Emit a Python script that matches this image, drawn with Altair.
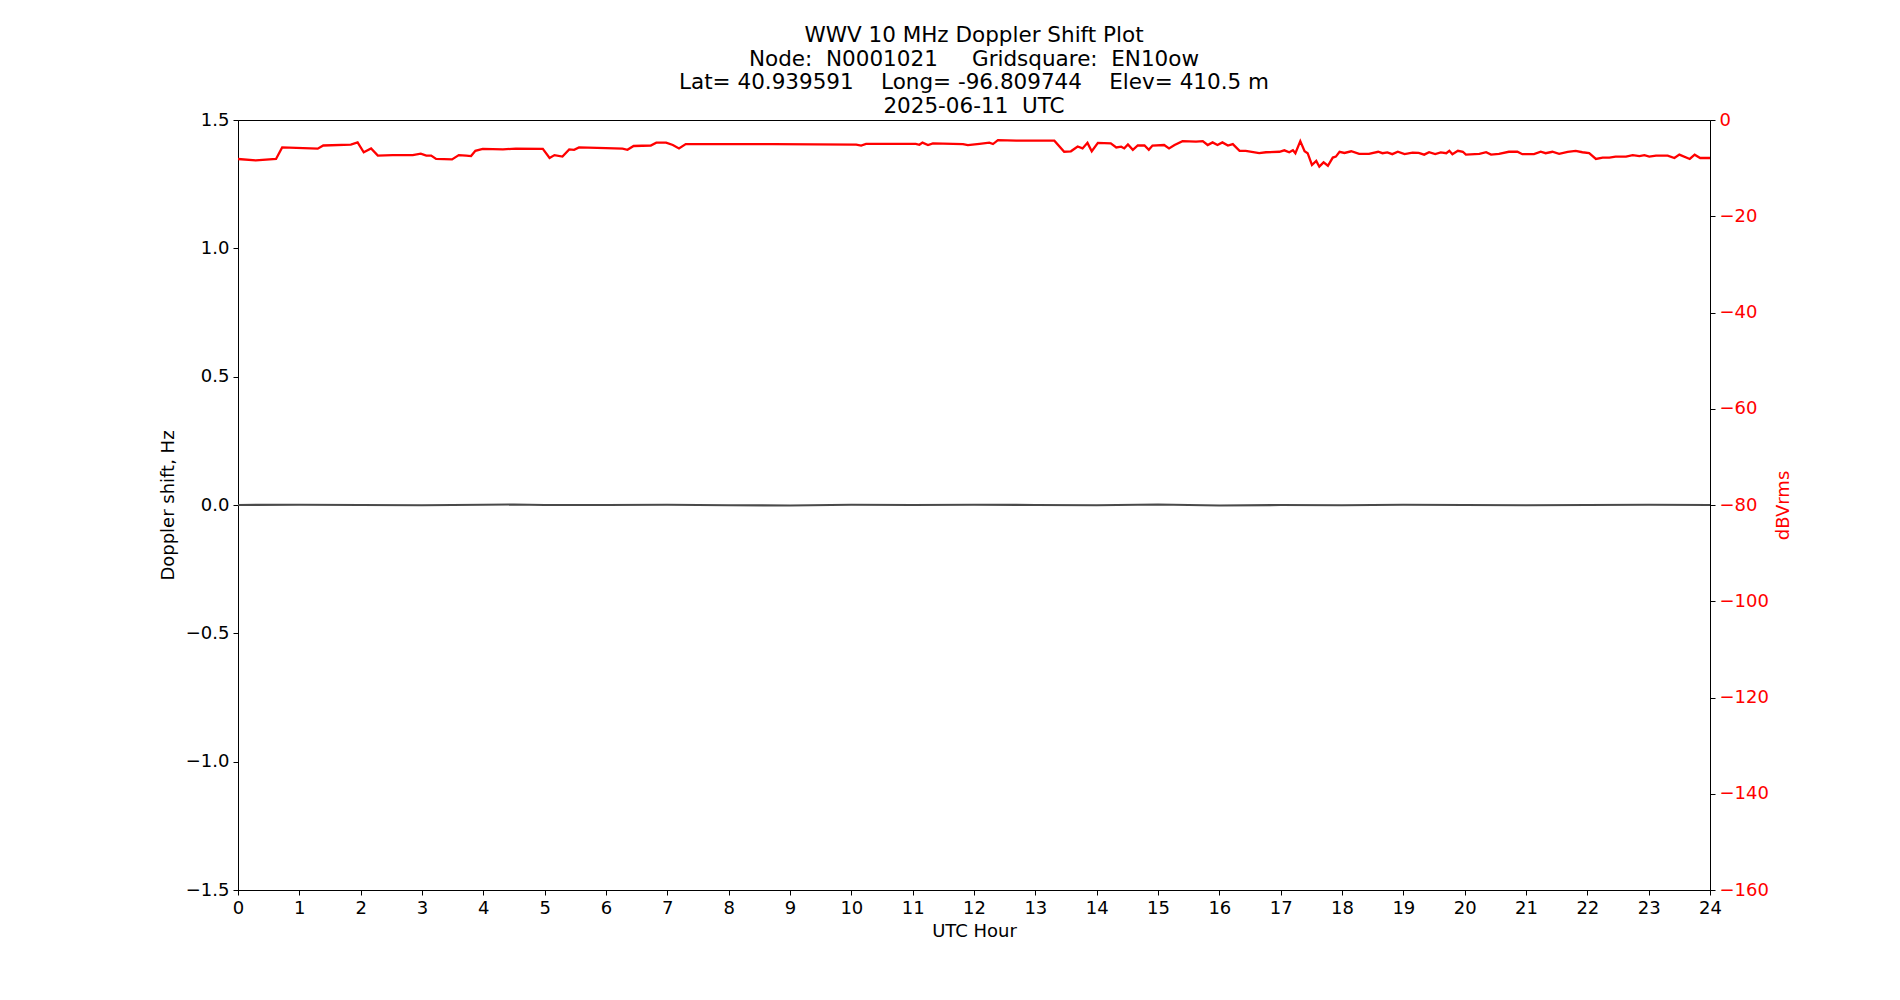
import altair as alt
import pandas as pd

# WWV 10 MHz received level (dBVrms)
snr_hours = [0.00, 0.29, 0.62, 0.72, 1.30, 1.39, 1.84, 1.95, 2.05, 2.17, 2.28, 2.52, 2.85, 2.98,
             3.07, 3.15, 3.23, 3.49, 3.60, 3.72, 3.80, 3.87, 3.99, 4.32, 4.53, 4.97, 5.08, 5.16,
             5.29, 5.40, 5.48, 5.56, 6.00, 6.27, 6.35, 6.45, 6.73, 6.82, 6.98, 7.09, 7.19, 7.30,
             8.72, 10.08, 10.16, 10.24, 11.05, 11.11, 11.16, 11.25, 11.33, 11.82, 11.90, 12.09,
             12.25, 12.31, 12.39, 12.69, 13.31, 13.47, 13.58, 13.69, 13.77, 13.85, 13.92, 14.02,
             14.23, 14.32, 14.40, 14.45, 14.51, 14.59, 14.67, 14.78, 14.85, 14.91, 15.10, 15.18,
             15.27, 15.40, 15.62, 15.73, 15.81, 15.89, 15.97, 16.05, 16.14, 16.22, 16.33, 16.43,
             16.65, 16.76, 16.98, 17.06, 17.14, 17.20, 17.24, 17.32, 17.39, 17.44, 17.51, 17.58,
             17.63, 17.70, 17.77, 17.85, 17.90, 17.96, 18.04, 18.15, 18.28, 18.44, 18.59, 18.66,
             18.74, 18.82, 18.91, 19.02, 19.15, 19.25, 19.34, 19.42, 19.52, 19.61, 19.70, 19.75,
             19.80, 19.89, 19.97, 20.02, 20.24, 20.35, 20.43, 20.56, 20.72, 20.86, 20.94, 21.13,
             21.24, 21.32, 21.43, 21.54, 21.68, 21.81, 21.92, 22.03, 22.14, 22.25, 22.36, 22.46,
             22.63, 22.74, 22.85, 22.93, 23.01, 23.12, 23.31, 23.42, 23.50, 23.67, 23.75, 23.84,
             24.00]
snr_db = [-8.1, -8.4, -8.1, -5.7, -5.95, -5.3, -5.1, -4.65, -6.7, -5.9, -7.4, -7.3, -7.3, -7.0,
          -7.4, -7.4, -8.1, -8.2, -7.3, -7.4, -7.5, -6.4, -6.0, -6.1, -5.95, -6.0, -7.9, -7.3,
          -7.6, -6.1, -6.2, -5.7, -5.85, -5.95, -6.2, -5.4, -5.3, -4.7, -4.7, -5.2, -5.9, -5.0,
          -5.0, -5.1, -5.3, -4.95, -4.95, -5.15, -4.7, -5.2, -4.85, -5.0, -5.2, -4.95,
          -4.7, -5.0, -4.2, -4.3, -4.3, -6.6, -6.5, -5.5, -5.9, -4.75, -6.5, -4.75,
          -4.85, -5.7, -5.55, -5.9, -5.1, -6.2, -5.3, -5.3, -6.2, -5.3, -5.2, -5.9,
          -5.2, -4.4, -4.5, -4.4, -5.2, -4.65, -5.2, -4.65, -5.3, -5.0, -6.4, -6.4,
          -6.9, -6.7, -6.6, -6.3, -6.7, -6.3, -6.9, -4.4, -6.5, -6.9, -9.35, -8.5,
          -9.7, -8.8, -9.5, -7.8, -7.6, -6.6, -6.85, -6.5, -7.05, -7.05, -6.6, -6.9,
          -6.75, -7.1, -6.6, -7.1, -6.8, -6.85, -7.2, -6.7, -7.1, -6.75, -6.9, -6.4,
          -7.1, -6.4, -6.6, -7.2, -7.05, -6.7, -7.2, -7.05, -6.6, -6.6, -7.1, -7.1,
          -6.6, -6.9, -6.6, -7.05, -6.6, -6.4, -6.7, -6.9, -8.1, -7.8, -7.8, -7.6,
          -7.6, -7.3, -7.5, -7.3, -7.6, -7.4, -7.4, -7.9, -7.2, -8.1, -7.2, -7.9,
          -7.9]

# Doppler shift (Hz), practically flat at zero
dop_hours = [0, 1, 2, 3, 4, 4.5, 5, 6, 7, 8, 9, 10, 11, 12, 13, 14, 15, 16, 17, 18, 19, 20,
             21, 22, 23, 24]
dop_hz = [0.0, 0.001, 0.0, -0.001, 0.001, 0.002, 0.0, 0.0, 0.001, -0.001, -0.002, 0.001,
          0.0, 0.001, 0.0, -0.001, 0.002, -0.002, 0.0, -0.001, 0.001, 0.0, -0.001, 0.0,
          0.001, 0.0]

title_lines = ["WWV 10 MHz Doppler Shift Plot",
               "Node:\u00a0\u00a0N0001021\u00a0\u00a0\u00a0\u00a0\u00a0Gridsquare:\u00a0\u00a0EN10ow",
               "Lat=\u00a040.939591\u00a0\u00a0\u00a0\u00a0Long=\u00a0-96.809744\u00a0\u00a0\u00a0\u00a0Elev=\u00a0410.5\u00a0m",
               "2025-06-11\u00a0\u00a0UTC"]

hour_ticks = list(range(0, 25))
dop_ticks = [-1.5, -1.0, -0.5, 0.0, 0.5, 1.0, 1.5]
db_ticks = list(range(-160, 1, 20))

df_snr = pd.DataFrame({'t': snr_hours, 'dBVrms': snr_db})
df_dop = pd.DataFrame({'t': dop_hours, 'doppler': dop_hz})

x_enc = alt.X('t:Q', scale=alt.Scale(domain=[0, 24], nice=False),
              axis=alt.Axis(title='UTC Hour', values=hour_ticks, format='d', titlePadding=5,
                            labelFlush=False))

# Doppler shift on the left axis
dop_line = (
    alt.Chart(df_dop)
    .mark_line(color='#4a4a4a', strokeWidth=2.2)
    .encode(
        x=x_enc,
        y=alt.Y('doppler:Q', scale=alt.Scale(domain=[-1.5, 1.5], nice=False),
                axis=alt.Axis(title='Doppler shift, Hz', orient='left', values=dop_ticks,
                              format='.1f', titlePadding=8))
    )
)

# Signal level on the right axis
snr_line = (
    alt.Chart(df_snr)
    .mark_line(color='#ff0000', strokeWidth=2.3)
    .encode(
        x=x_enc,
        y=alt.Y('dBVrms:Q', scale=alt.Scale(domain=[-160, 0], nice=False),
                axis=alt.Axis(title='dBVrms', orient='right', values=db_ticks, format='d',
                              labelColor='#ff0000', titleColor='#ff0000',
                              titleAngle=270, titleBaseline='top', titlePadding=6))
    )
)

chart = (
    alt.layer(dop_line, snr_line)
    .resolve_scale(y='independent')
    .properties(
        width=1472,
        height=770,
        padding={'left': 230, 'top': 112, 'right': 170, 'bottom': 90},
        autosize=alt.AutoSizeParams(type='none'),
        title=alt.TitleParams(text=title_lines, font='DejaVu Sans', fontSize=21.5,
                              fontWeight='normal', color='black', anchor='middle',
                              lineHeight=23.5, offset=-6),
    )
    .configure_axis(
        labelFont='DejaVu Sans', labelFontSize=18, labelColor='black',
        titleFont='DejaVu Sans', titleFontSize=18, titleFontWeight='normal', titleColor='black',
        domainColor='black', tickColor='black', tickSize=5, labelPadding=4, grid=False,
    )
    .configure_view(stroke='black', strokeWidth=1)
)

chart.save("out.html", embed_options={"renderer": "svg", "actions": False})
